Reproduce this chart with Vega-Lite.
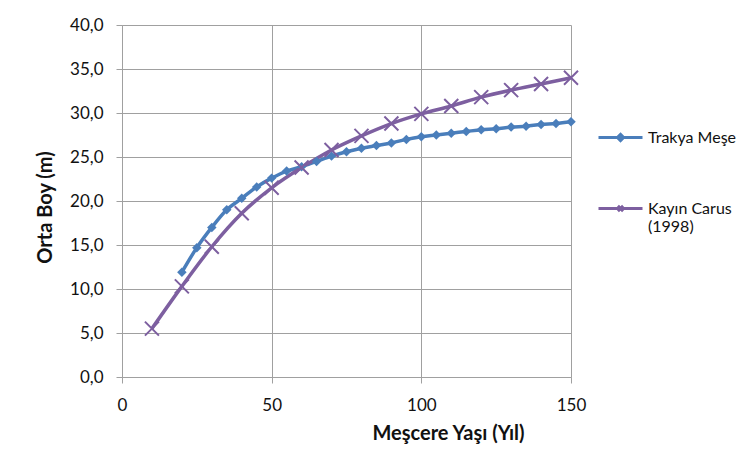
{
  "$schema": "https://vega.github.io/schema/vega-lite/v6.json",
  "width": 449,
  "height": 352,
  "autosize": {"type": "none"},
  "padding": {"left": 122, "top": 25, "right": 178, "bottom": 73},
  "background": "white",
  "config": {
    "view": {"stroke": null},
    "font": "Lato",
    "axis": {"labelFont": "Lato", "titleFont": "Lato", "labelColor": "#111", "titleColor": "#111", "labelFlush": false}
  },
  "datasets": {
    "pts": [
      {"age": 20, "height": 11.9, "series": "Trakya Meşe"},
      {"age": 25, "height": 14.7, "series": "Trakya Meşe"},
      {"age": 30, "height": 17.0, "series": "Trakya Meşe"},
      {"age": 35, "height": 19.0, "series": "Trakya Meşe"},
      {"age": 40, "height": 20.3, "series": "Trakya Meşe"},
      {"age": 45, "height": 21.6, "series": "Trakya Meşe"},
      {"age": 50, "height": 22.6, "series": "Trakya Meşe"},
      {"age": 55, "height": 23.4, "series": "Trakya Meşe"},
      {"age": 60, "height": 23.9, "series": "Trakya Meşe"},
      {"age": 65, "height": 24.5, "series": "Trakya Meşe"},
      {"age": 70, "height": 25.1, "series": "Trakya Meşe"},
      {"age": 75, "height": 25.6, "series": "Trakya Meşe"},
      {"age": 80, "height": 26.0, "series": "Trakya Meşe"},
      {"age": 85, "height": 26.3, "series": "Trakya Meşe"},
      {"age": 90, "height": 26.6, "series": "Trakya Meşe"},
      {"age": 95, "height": 27.0, "series": "Trakya Meşe"},
      {"age": 100, "height": 27.3, "series": "Trakya Meşe"},
      {"age": 105, "height": 27.5, "series": "Trakya Meşe"},
      {"age": 110, "height": 27.7, "series": "Trakya Meşe"},
      {"age": 115, "height": 27.9, "series": "Trakya Meşe"},
      {"age": 120, "height": 28.1, "series": "Trakya Meşe"},
      {"age": 125, "height": 28.2, "series": "Trakya Meşe"},
      {"age": 130, "height": 28.4, "series": "Trakya Meşe"},
      {"age": 135, "height": 28.5, "series": "Trakya Meşe"},
      {"age": 140, "height": 28.7, "series": "Trakya Meşe"},
      {"age": 145, "height": 28.8, "series": "Trakya Meşe"},
      {"age": 150, "height": 29.0, "series": "Trakya Meşe"},
      {"age": 10, "height": 5.5, "series": "Kayın Carus (1998)"},
      {"age": 20, "height": 10.3, "series": "Kayın Carus (1998)"},
      {"age": 30, "height": 14.8, "series": "Kayın Carus (1998)"},
      {"age": 40, "height": 18.6, "series": "Kayın Carus (1998)"},
      {"age": 50, "height": 21.5, "series": "Kayın Carus (1998)"},
      {"age": 60, "height": 23.8, "series": "Kayın Carus (1998)"},
      {"age": 70, "height": 25.8, "series": "Kayın Carus (1998)"},
      {"age": 80, "height": 27.4, "series": "Kayın Carus (1998)"},
      {"age": 90, "height": 28.8, "series": "Kayın Carus (1998)"},
      {"age": 100, "height": 29.9, "series": "Kayın Carus (1998)"},
      {"age": 110, "height": 30.8, "series": "Kayın Carus (1998)"},
      {"age": 120, "height": 31.8, "series": "Kayın Carus (1998)"},
      {"age": 130, "height": 32.6, "series": "Kayın Carus (1998)"},
      {"age": 140, "height": 33.3, "series": "Kayın Carus (1998)"},
      {"age": 150, "height": 34.0, "series": "Kayın Carus (1998)"}
    ]
  },
  "data": {"name": "pts"},
  "encoding": {
    "x": {
      "field": "age", "type": "quantitative",
      "scale": {"domain": [0, 150], "nice": false},
      "axis": {
        "values": [0, 50, 100, 150],
        "title": "Meşcere Yaşı (Yıl)",
        "titleFontSize": 20, "titleFontWeight": "bold",
        "titleX": 326, "titleY": 56, "titleAlign": "center", "titleBaseline": "middle",
        "labelFontSize": 17, "labelPadding": 14, "labelFlush": false,
        "tickSize": 6, "tickColor": "#a0a0a0", "domainColor": "#a0a0a0",
        "grid": true, "gridColor": "#a0a0a0", "gridWidth": 1
      }
    },
    "y": {
      "field": "height", "type": "quantitative",
      "scale": {"domain": [0, 40], "nice": false},
      "axis": {
        "values": [0, 5, 10, 15, 20, 25, 30, 35, 40],
        "labelExpr": "replace(format(datum.value, '.1f'), '.', ',')",
        "title": "Orta Boy (m)",
        "titleFontSize": 20, "titleFontWeight": "bold",
        "titleX": -77, "titleY": 182, "titleAlign": "center", "titleBaseline": "middle", "titleAngle": -90,
        "labelFontSize": 17, "labelPadding": 13, "labelFlush": false,
        "tickSize": 6, "tickColor": "#a0a0a0", "domainColor": "#a0a0a0",
        "grid": true, "gridColor": "#a0a0a0", "gridWidth": 1
      }
    },
    "color": {
      "field": "series", "type": "nominal",
      "scale": {"domain": ["Trakya Meşe", "Kayın Carus (1998)"], "range": ["#4a7ebb", "#7d5fa0"]},
      "legend": {
        "title": null, "orient": "none", "legendX": 475, "legendY": 89,
        "padding": 0, "rowPadding": 38, "symbolOpacity": 1, "symbolStrokeWidth": 3,
        "symbolSize": 1936, "labelFontSize": 16, "labelFont": "Lato", "labelColor": "#111",
        "labelOffset": 4, "labelLimit": 200,
        "labelExpr": "datum.label == 'Kayın Carus (1998)' ? ['Kayın Carus', '(1998)'] : datum.label"
      }
    }
  },
  "layer": [
    {
      "mark": {"type": "line", "interpolate": "monotone", "strokeWidth": 3.5},
      "encoding": {}
    },
    {
      "mark": {"type": "point", "filled": false, "opacity": 0, "size": 1936},
      "encoding": {
        "shape": {
          "field": "series", "type": "nominal",
          "scale": {"domain": ["Trakya Meşe", "Kayın Carus (1998)"], "range": ["M-1,0H1M0,-0.14L0.14,0L0,0.14L-0.14,0Z", "M-1,0H1M-0.12,-0.12L0.12,0.12M-0.12,0.12L0.12,-0.12"]},
          "legend": {
            "title": null, "orient": "none", "legendX": 475, "legendY": 89,
            "padding": 0, "rowPadding": 38, "symbolOpacity": 1, "symbolStrokeWidth": 3,
            "symbolSize": 1936, "labelFontSize": 16, "labelFont": "Lato", "labelColor": "#111",
            "labelOffset": 4, "labelLimit": 200,
            "labelExpr": "datum.label == 'Kayın Carus (1998)' ? ['Kayın Carus', '(1998)'] : datum.label"
          }
        }
      }
    },
    {
      "transform": [{"filter": "datum.series == 'Trakya Meşe'"}],
      "mark": {"type": "point", "shape": "diamond", "filled": true, "size": 90, "opacity": 1}
    },
    {
      "transform": [{"filter": "datum.series == 'Kayın Carus (1998)'"}],
      "mark": {"type": "point", "shape": "M-1,-1L1,1M-1,1L1,-1", "filled": false, "size": 196, "strokeWidth": 2, "opacity": 1}
    }
  ]
}
